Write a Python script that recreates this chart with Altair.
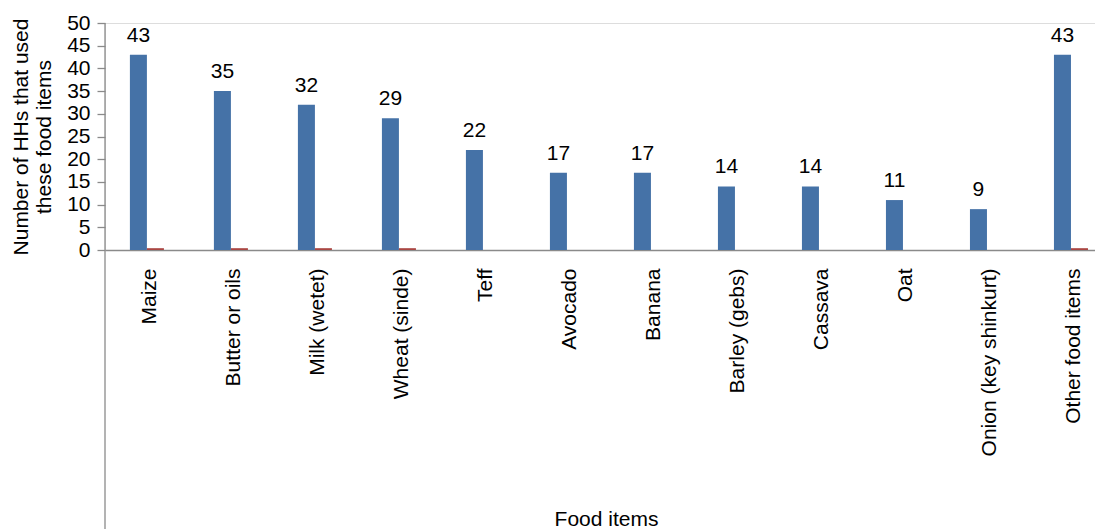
import altair as alt
import pandas as pd

categories = ["Maize", "Butter or oils", "Milk (wetet)", "Wheat (sinde)", "Teff",
              "Avocado", "Banana", "Barley (gebs)", "Cassava", "Oat",
              "Onion (key shinkurt)", "Other food items"]
households = [43, 35, 32, 29, 22, 17, 17, 14, 14, 11, 9, 43]
second_series = [0.4, 0.4, 0.4, 0.4, 0, 0, 0, 0, 0, 0, 0, 0.4]
y_ticks = [0, 5, 10, 15, 20, 25, 30, 35, 40, 45, 50]

rows = []
for c, h, s in zip(categories, households, second_series):
    rows.append({"item": c, "series": "A", "value": h})
    if s > 0:
        rows.append({"item": c, "series": "B", "value": s})
df = pd.DataFrame(rows)

FONT = "Liberation Sans"
GRAY = "#8a8a8a"
FS = 21
W, H = 990, 227

xscale = alt.Scale(domain=categories, paddingInner=0.595, paddingOuter=0.19, align=0.78)
offscale = alt.Scale(domain=["A", "B"])

x_axis = alt.Axis(title="Food items", labelAngle=-90, labelFontSize=FS,
                  labelPadding=18, labelOffset=3, ticks=False, domainColor=GRAY,
                  domainWidth=1.3, labelColor="#000", titleFontSize=FS,
                  titleFontWeight="normal", titleColor="#000",
                  titleY=275, titleBaseline="alphabetic", titleX=501,
                  labelFont=FONT, titleFont=FONT, labelLimit=400)
y_axis = alt.Axis(title=["Number of HHs that used", "these food items"],
                  values=y_ticks, tickCount=50, tickSize=8, tickColor=GRAY, tickWidth=1.3,
                  domain=False, grid=False, labelFontSize=FS, labelPadding=7,
                  labelOverlap=False, labelColor="#000", titleFontSize=FS,
                  titleFontWeight="normal", titleColor="#000", titlePadding=12,
                  labelFont=FONT, titleFont=FONT)
yscale = alt.Scale(domain=[0, 50], nice=False)

x_enc = alt.X("item:N", scale=xscale, sort=categories, axis=x_axis)
y_enc = alt.Y("value:Q", scale=yscale, axis=y_axis)
off_enc = alt.XOffset("series:N", scale=offscale)

base = alt.Chart(df)

bars = base.mark_bar().encode(
    x=x_enc,
    xOffset=off_enc,
    y=y_enc,
    color=alt.Color("series:N", scale=alt.Scale(domain=["A", "B"], range=["#4572A7", "#AA4643"]),
                    legend=None),
)

labels = base.transform_filter(alt.datum.series == "A").mark_text(
    baseline="bottom", dy=-9, fontSize=FS, font=FONT, color="#000"
).encode(
    x=x_enc,
    xOffset=off_enc,
    y=y_enc,
    text=alt.Text("value:Q"),
)

yline = alt.Chart(pd.DataFrame({"v": [0]})).mark_rule(color=GRAY, strokeWidth=1.3).encode(
    x=alt.value(0), y=alt.value(0), y2=alt.value(506)
)

chart = alt.layer(bars, labels, yline).properties(
    width=W, height=H,
    autosize=alt.AutoSizeParams(type="none"),
    padding={"left": 105, "top": 23, "right": 0, "bottom": 279},
).configure_view(stroke=None).configure(font=FONT, background="white")

chart.save("out.html", embed_options={"renderer": "svg", "actions": False})
